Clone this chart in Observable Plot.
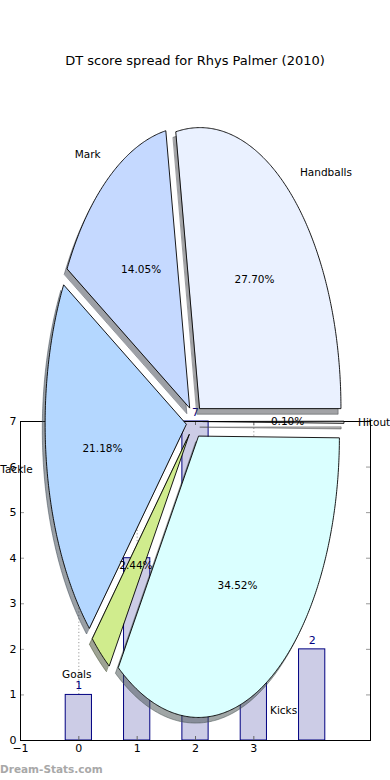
<!DOCTYPE html>
<html><head><meta charset="utf-8">
<script src="https://cdn.jsdelivr.net/npm/d3@7"></script>
<script src="https://cdn.jsdelivr.net/npm/@observablehq/plot@0.6"></script>
<style>
html,body{margin:0;padding:0;background:#fff;}
#wrap{position:relative;width:390px;height:780px;overflow:hidden;font-family:"DejaVu Sans",sans-serif;}
#title{position:absolute;top:53px;left:0;width:390px;text-align:center;font-size:13px;color:#000;}
#mark{position:absolute;left:0;top:763px;font-size:10.5px;font-weight:bold;color:#a8a8a8;}
.layer{position:absolute;left:0;top:0;}
</style></head><body>
<div id="wrap">
<div id="title">DT score spread for Rhys Palmer (2010)</div>
<div id="bars" class="layer"></div>
<div id="pie" class="layer"></div>
<div id="mark">Dream-Stats.com</div>
</div>
<script>
// ---- data ----
const sliceLabels = ["Handballs", "Mark", "Tackle", "Goals", "Kicks", "Hitout"];
const slicePct = [27.70, 14.05, 21.18, 2.44, 34.52, 0.10];
const sliceColors = ["#eaf1ff", "#c5d9ff", "#b4d7ff", "#d0ec8d", "#daffff", "#f2f2f2"];
const barX = [0, 1, 2, 3, 4];
const barValues = [1, 4, 7, 3, 2];
const xTicks = [-1, 0, 1, 2, 3];
const yTicks = [0, 1, 2, 3, 4, 5, 6, 7];

// ---- layout ----
const W = 390, H = 780;
const PIE_CX = 194, PIE_CY = 421, PIE_RX = 141, PIE_RY = 281;
const EXPLODE = 0.06, SHADOW = 0.02;
const FONT = "DejaVu Sans, sans-serif";

// ---- bar chart (underneath) ----
const bars = barX.map((x, i) => ({x, v: barValues[i]}));
const barPlot = Plot.plot({
  width: W, height: H,
  marginTop: 421, marginBottom: 40, marginLeft: 20, marginRight: 20,
  x: {type: "linear", domain: [-1, 5]},
  y: {domain: [0, 7]},
  style: {fontFamily: FONT, fontSize: "10.5px", background: "transparent", overflow: "visible"},
  marks: [
    Plot.gridX(xTicks, {stroke: "#9a9a9a", strokeOpacity: 1, strokeDasharray: "1.2,2.2"}),
    Plot.rectY(bars, {x1: d => d.x - 0.225, x2: d => d.x + 0.225, y: "v", fill: "#ccccE6", stroke: "#000080", strokeWidth: 1}),
    Plot.text(bars, {x: "x", y: "v", text: d => String(d.v), dy: -9, fill: "#000080", fontSize: 11}),
    Plot.tickX(xTicks, {x: d => d, insetTop: 315, stroke: "#666"}),
    Plot.tickX(xTicks, {x: d => d, insetBottom: 315, stroke: "#666"}),
    Plot.tickY(yTicks, {y: d => d, insetRight: 346, stroke: "#999"}),
    Plot.tickY(yTicks, {y: d => d, insetLeft: 346, stroke: "#999"}),
    Plot.frame({stroke: "black", strokeWidth: 1}),
    Plot.axisX(xTicks, {tickSize: 0, tickPadding: 4, label: null, fontSize: 11}),
    Plot.axisY(yTicks, {tickSize: 0, tickPadding: 4, label: null, fontSize: 11})
  ]
});
document.getElementById("bars").append(barPlot);

// ---- pie chart (on top) ----
const total = d3.sum(slicePct);
let acc = 0;
const wedges = sliceLabels.map((label, i) => {
  const t1 = acc / total * 2 * Math.PI;
  acc += slicePct[i];
  const t2 = acc / total * 2 * Math.PI;
  const mid = (t1 + t2) / 2;
  return {label, pct: slicePct[i], color: sliceColors[i], t1, t2, mid,
          ox: EXPLODE * Math.cos(mid), oy: EXPLODE * Math.sin(mid)};
});
function darken(c) {
  const r = d3.rgb(c);
  return d3.rgb(r.r * 0.3, r.g * 0.3, r.b * 0.3).formatHex();
}
const wedgePts = [], shadowPts = [];
for (const w of wedges) {
  const n = Math.max(2, Math.ceil((w.t2 - w.t1) / (Math.PI / 360)));
  const ring = [[w.ox, w.oy]];
  for (let k = 0; k <= n; k++) {
    const t = w.t1 + (w.t2 - w.t1) * k / n;
    ring.push([w.ox + Math.cos(t), w.oy + Math.sin(t)]);
  }
  for (const [x, y] of ring) {
    wedgePts.push({label: w.label, x, y, color: w.color});
    shadowPts.push({label: w.label, x: x - SHADOW, y: y - SHADOW, color: darken(w.color)});
  }
}
const labelPos = wedges.map(w => ({
  label: w.label,
  x: w.ox + 1.1 * Math.cos(w.mid), y: w.oy + 1.1 * Math.sin(w.mid),
  px: w.ox + 0.6 * Math.cos(w.mid), py: w.oy + 0.6 * Math.sin(w.mid),
  pct: d3.format(".2f")(w.pct) + "%"
}));

const piePlot = Plot.plot({
  width: W, height: H, margin: 0,
  x: {domain: [(0 - PIE_CX) / PIE_RX, (W - PIE_CX) / PIE_RX], axis: null},
  y: {domain: [(PIE_CY - H) / PIE_RY, PIE_CY / PIE_RY], axis: null},
  color: {type: "identity"},
  style: {fontFamily: FONT, fontSize: "10.5px", background: "transparent", overflow: "visible"},
  marks: [
    Plot.line(shadowPts, {x: "x", y: "y", z: "label", fill: "color", fillOpacity: 0.5, stroke: "color", strokeOpacity: 0.5, strokeWidth: 1, curve: "linear-closed"}),
    Plot.line(wedgePts, {x: "x", y: "y", z: "label", fill: "color", stroke: "black", strokeWidth: 0.9, curve: "linear-closed"}),
    Plot.text(labelPos, {filter: d => d.x > 0, x: "x", y: "y", text: "label", textAnchor: "start", fill: "black"}),
    Plot.text(labelPos, {filter: d => d.x <= 0, x: "x", y: "y", text: "label", textAnchor: "end", fill: "black"}),
    Plot.text(labelPos, {x: "px", y: "py", text: "pct", fill: "black"})
  ]
});
piePlot.style.pointerEvents = "none";
document.getElementById("pie").append(piePlot);
</script>
</body></html>
